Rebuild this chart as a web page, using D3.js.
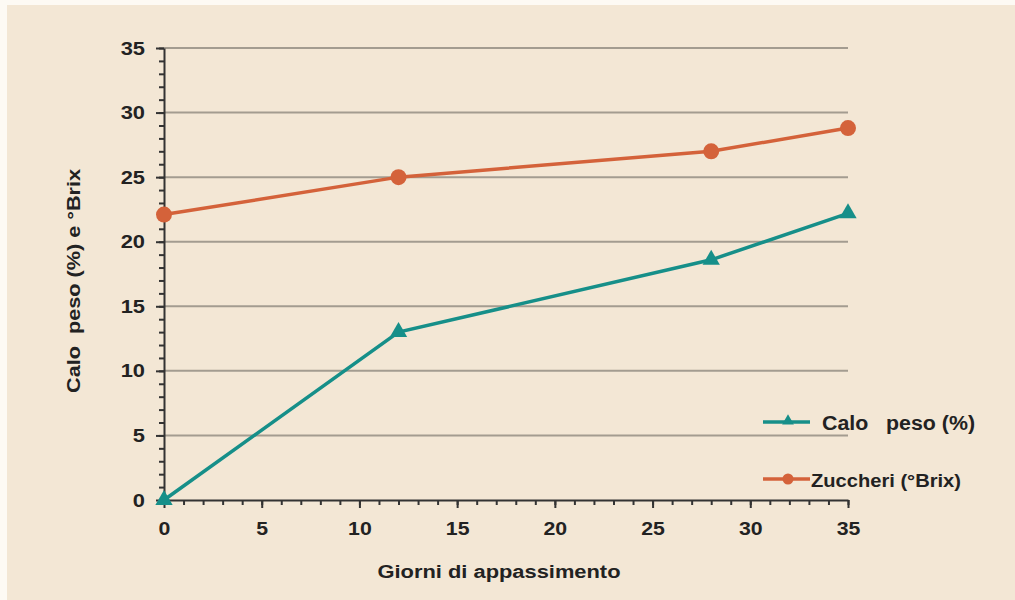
<!DOCTYPE html>
<html>
<head>
<meta charset="utf-8">
<script src="https://cdn.jsdelivr.net/npm/d3@7"></script>
<style>
  html, body { margin: 0; padding: 0; background: #fdfaf4; }
  svg { display: block; }
  text { font-family: "Liberation Sans", Arial, sans-serif; fill: #222; }
</style>
</head>
<body>
<svg id="chart" width="1015" height="600"></svg>
<script>
// Giorni di appassimento (days of drying)
const giorni = [0, 12, 28, 35];
// Weight loss (%)
const caloPeso = [0, 13, 18.6, 22.2];
// Sugars (°Brix)
const zuccheri = [22.1, 25, 27, 28.8];
const xTicks = [0, 5, 10, 15, 20, 25, 30, 35];
const yTicks = [0, 5, 10, 15, 20, 25, 30, 35];

const svg = d3.select("#chart");
const W = 1015, H = 600;
const FONT = "Liberation Sans, Arial, sans-serif";

// widen glyphs horizontally by factor k (the lettering is set slightly extended)
function widen(sel, k) {
  sel.each(function () {
    const w = this.getComputedTextLength();
    d3.select(this).attr("textLength", w * k).attr("lengthAdjust", "spacingAndGlyphs");
  });
}

svg.append("rect").attr("x", 7).attr("y", 5).attr("width", W - 7).attr("height", H - 5)
  .attr("fill", "#f3e7d5");

const x = d3.scaleLinear().domain([0, 35]).range([164, 848]);
const y = d3.scaleLinear().domain([0, 35]).range([500, 48]);

// horizontal gridlines
svg.append("g").selectAll("line").data(yTicks.filter(d => d > 0)).join("line")
  .attr("x1", x(0)).attr("x2", x(35))
  .attr("y1", d => y(d)).attr("y2", d => y(d))
  .attr("stroke", "#a39c90").attr("stroke-width", 2);

// minor ticks every unit
const minor = d3.range(0, 36);
const yMinor = d3.axisLeft(y).tickValues(minor).tickSize(5).tickFormat("");
const xMinor = d3.axisBottom(x).tickValues(minor).tickSize(5).tickFormat("");
svg.append("g").attr("transform", `translate(${x(0)},0)`).call(yMinor)
  .call(g => g.selectAll("line").attr("stroke", "#333").attr("stroke-width", 2))
  .call(g => g.select(".domain").remove());
svg.append("g").attr("transform", `translate(0,${y(0)})`).call(xMinor)
  .call(g => g.selectAll("line").attr("stroke", "#333").attr("stroke-width", 2))
  .call(g => g.select(".domain").remove());

// major axes
const yAxis = d3.axisLeft(y).tickValues(yTicks).tickSize(8).tickPadding(11).tickSizeOuter(0);
const xAxis = d3.axisBottom(x).tickValues(xTicks).tickSize(8).tickPadding(14).tickSizeOuter(0);
const gy = svg.append("g").attr("transform", `translate(${x(0)},0)`).call(yAxis)
  .call(g => g.selectAll("line, .domain").attr("stroke", "#333").attr("stroke-width", 2))
  .call(g => g.selectAll("text").attr("font-size", 19).attr("font-weight", "bold")
    .attr("fill", "#222").attr("font-family", FONT));
const gx = svg.append("g").attr("transform", `translate(0,${y(0)})`).call(xAxis)
  .call(g => g.selectAll("line, .domain").attr("stroke", "#333").attr("stroke-width", 2))
  .call(g => g.selectAll("text").attr("font-size", 19).attr("font-weight", "bold")
    .attr("fill", "#222").attr("font-family", FONT));
widen(gy.selectAll("text"), 1.15);
widen(gx.selectAll("text"), 1.12);

// axis titles
svg.append("text").attr("x", 499).attr("y", 578).attr("text-anchor", "middle")
  .attr("font-size", 18).attr("font-weight", "bold").text("Giorni di appassimento")
  .attr("textLength", 243).attr("lengthAdjust", "spacingAndGlyphs");
svg.append("text").attr("transform", "translate(80,281) rotate(-90)").attr("text-anchor", "middle")
  .attr("font-size", 19).attr("font-weight", "bold").attr("xml:space", "preserve")
  .text("Calo  peso (%) e °Brix")
  .attr("textLength", 224).attr("lengthAdjust", "spacingAndGlyphs");

const teal = "#168f89", orange = "#d4623a";
const line = d3.line().x((d, i) => x(giorni[i])).y(d => y(d));

svg.append("path").datum(zuccheri).attr("d", line).attr("fill", "none")
  .attr("stroke", orange).attr("stroke-width", 3.5);
svg.append("g").selectAll("circle").data(zuccheri).join("circle")
  .attr("cx", (d, i) => x(giorni[i])).attr("cy", d => y(d)).attr("r", 8).attr("fill", orange);

svg.append("path").datum(caloPeso).attr("d", line).attr("fill", "none")
  .attr("stroke", teal).attr("stroke-width", 3.5);
const tri = d3.symbol().type(d3.symbolTriangle).size(130);
svg.append("g").selectAll("path").data(caloPeso).join("path")
  .attr("transform", (d, i) => `translate(${x(giorni[i])},${y(d)})`)
  .attr("d", tri).attr("fill", teal);

// legend
const leg = svg.append("g");
leg.append("line").attr("x1", 763).attr("x2", 810).attr("y1", 422).attr("y2", 422)
  .attr("stroke", teal).attr("stroke-width", 3.5);
leg.append("path").attr("transform", "translate(788,421)")
  .attr("d", d3.symbol().type(d3.symbolTriangle).size(60)).attr("fill", teal);
leg.append("text").attr("x", 822).attr("y", 430).attr("font-size", 20).attr("font-weight", "bold")
  .attr("xml:space", "preserve").text("Calo   peso (%)")
  .attr("textLength", 153).attr("lengthAdjust", "spacingAndGlyphs");
leg.append("line").attr("x1", 763).attr("x2", 810).attr("y1", 479).attr("y2", 479)
  .attr("stroke", orange).attr("stroke-width", 3.5);
leg.append("circle").attr("cx", 788).attr("cy", 479).attr("r", 5.5).attr("fill", orange);
leg.append("text").attr("x", 811).attr("y", 487).attr("font-size", 19).attr("font-weight", "bold")
  .text("Zuccheri (°Brix)")
  .attr("textLength", 150).attr("lengthAdjust", "spacingAndGlyphs");
</script>
</body>
</html>
